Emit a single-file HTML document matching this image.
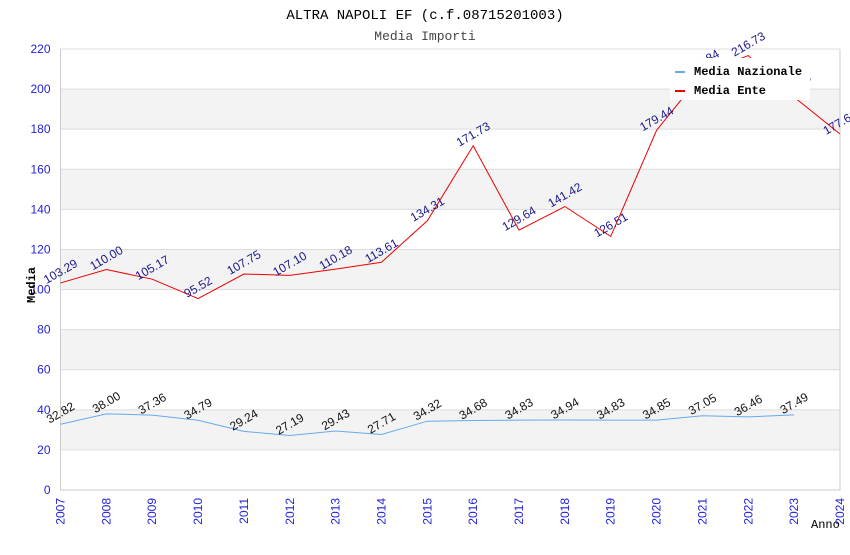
<!DOCTYPE html>
<html><head><meta charset="utf-8"><style>
body{margin:0;background:#fff;width:850px;height:550px;overflow:hidden}
svg text{font-family:"Liberation Sans",sans-serif}
.mono{font-family:"Liberation Mono",monospace}
</style></head><body>
<svg id="c" width="850" height="550">
<text class="mono" x="425" y="19" text-anchor="middle" font-size="14">ALTRA NAPOLI EF (c.f.08715201003)</text>
<text class="mono" x="425" y="40" text-anchor="middle" font-size="13" fill="#444">Media Importi</text>
<g id="plot"></g>
</svg>
<script>
const years=[2007,2008,2009,2010,2011,2012,2013,2014,2015,2016,2017,2018,2019,2020,2021,2022,2023,2024];
const ente=[103.29,110.00,105.17,95.52,107.75,107.10,110.18,113.61,134.31,171.73,129.64,141.42,126.51,179.44,207.84,216.73,196.0,177.61];
const naz=[32.82,38.00,37.36,34.79,29.24,27.19,29.43,27.71,34.32,34.68,34.83,34.94,34.83,34.85,37.05,36.46,37.49];
const yTicks=[0,20,40,60,80,100,120,140,160,180,200,220];
const L=60.5,R=840,B=490,T=49;
const x=i=>L+(R-L)*i/(years.length-1);
const y=v=>B-(B-T)*v/220;
const g=document.getElementById('plot');const NS='http://www.w3.org/2000/svg';
function mk(t,a,p){const e=document.createElementNS(NS,t);for(const k in a)e.setAttribute(k,a[k]);(p||g).appendChild(e);return e;}
for(let k=0;k<yTicks.length-1;k++){
 if(k%2==1){const r=mk('rect',{x:L,y:y(yTicks[k+1]),width:R-L,height:y(yTicks[k])-y(yTicks[k+1]),fill:'#f3f3f3'});
 
 }
}
yTicks.forEach(v=>{
 const l=mk('line',{x1:L,x2:R,y1:y(v),y2:y(v),stroke:'#ddd'});
 
 
 const t=mk('text',{x:L-10,y:y(v)+4,'text-anchor':'end','font-size':12,fill:'#2222dd'});t.textContent=v;
 
 
});
const ax=mk('path',{d:`M${L},${T}V${B}H${R}V${T}`,fill:'none',stroke:'#ccc'});


years.forEach((yr,i)=>{
 const t=mk('text',{transform:`translate(${x(i)+4},${B+8}) rotate(-90)`,'text-anchor':'end','font-size':12,fill:'#2222dd'});t.textContent=yr;
 
 
});
function series(vals,col,lab,name){
 const p=mk('polyline',{points:vals.map((v,i)=>x(i)+','+y(v)).join(' '),fill:'none',stroke:col,'stroke-width':1});
 
 
 vals.forEach((v,i)=>{
  const t=mk('text',{transform:`translate(${x(i)+2},${y(v)-8}) rotate(-30)`,'text-anchor':'middle','font-size':12,fill:lab});
  t.textContent=v.toFixed(2);
  
  
 });
}
series(naz,'#66aaee','#111','media-nazionale');
series(ente,'#ee0000','#1a1a8a','media-ente');
const lg=mk('g',{});


mk('rect',{x:670,y:58,width:140,height:42,fill:'#fff'},lg);
mk('rect',{x:675,y:71,width:10,height:2,fill:'#66aaee'},lg);
mk('rect',{x:675,y:90,width:10,height:2,fill:'#ee0000'},lg);
const t1=mk('text',{x:694,y:75,'font-size':12,'font-weight':'bold',class:'mono'},lg);t1.textContent='Media Nazionale';


const t2=mk('text',{x:694,y:94,'font-size':12,'font-weight':'bold',class:'mono'},lg);t2.textContent='Media Ente';


const ya=mk('text',{transform:'translate(35,285) rotate(-90)','text-anchor':'middle','font-size':12,'font-weight':'bold',class:'mono'});ya.textContent='Media';


const xa=mk('text',{x:811,y:528,'font-size':12,class:'mono'});xa.textContent='Anno';


</script>
</body></html>
